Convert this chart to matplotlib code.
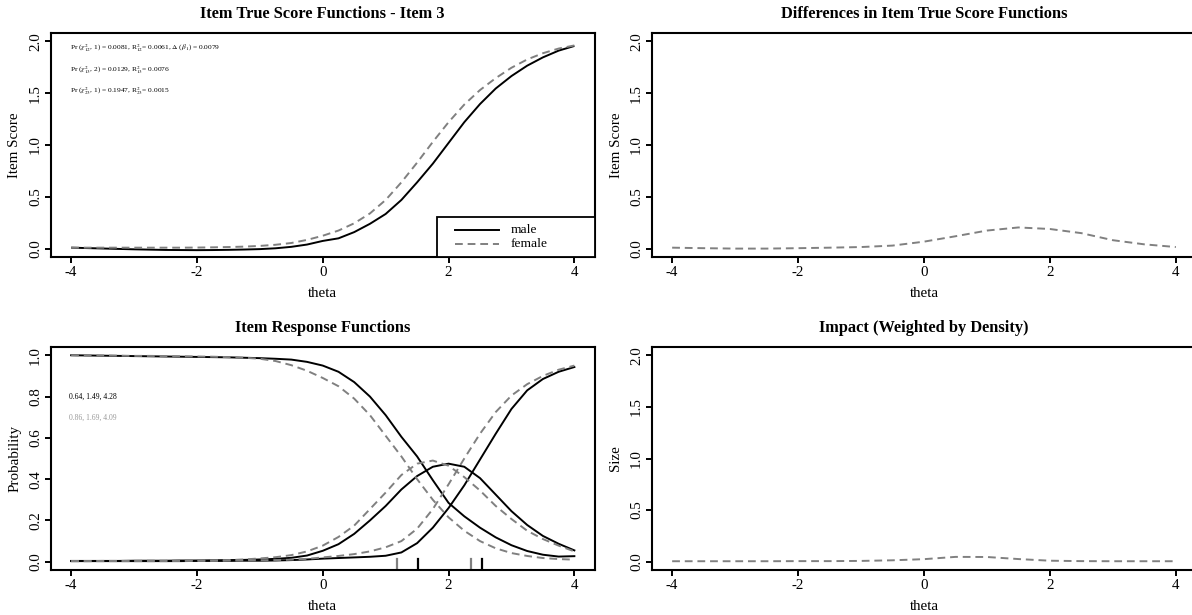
import numpy as np
import matplotlib
matplotlib.use('Agg')
import matplotlib.pyplot as plt
from matplotlib.patches import Rectangle

plt.rcParams['font.family'] = ['Liberation Serif', 'DejaVu Serif']
plt.rcParams['mathtext.fontset'] = 'stix'

# ---------------- data ----------------
theta = [-4.0, -3.75, -3.5, -3.25, -3.0, -2.75, -2.5, -2.25, -2.0, -1.75, -1.5, -1.25,
         -1.0, -0.75, -0.5, -0.25, 0.0, 0.25, 0.5, 0.75, 1.0, 1.25, 1.5, 1.75,
         2.0, 2.25, 2.5, 2.75, 3.0, 3.25, 3.5, 3.75, 4.0]

tsf_male = [0.010, 0.006, 0.002, -0.002, -0.006, -0.009, -0.012, -0.013, -0.014, -0.013, -0.011, -0.008,
            -0.004, 0.004, 0.018, 0.040, 0.075, 0.100, 0.160, 0.240, 0.335, 0.470, 0.640, 0.820,
            1.020, 1.220, 1.395, 1.545, 1.665, 1.765, 1.845, 1.910, 1.955]
tsf_female = [0.010, 0.010, 0.010, 0.010, 0.010, 0.010, 0.010, 0.010, 0.011, 0.013, 0.016, 0.020,
              0.027, 0.038, 0.055, 0.085, 0.125, 0.175, 0.245, 0.340, 0.470, 0.640, 0.830, 1.030,
              1.220, 1.390, 1.530, 1.645, 1.745, 1.825, 1.885, 1.930, 1.960]

irf_male_p0 = [1.000, 0.999, 0.998, 0.997, 0.996, 0.995, 0.994, 0.993, 0.992, 0.991, 0.990, 0.988,
               0.986, 0.983, 0.979, 0.968, 0.950, 0.920, 0.870, 0.800, 0.710, 0.605, 0.510, 0.395,
               0.285, 0.220, 0.165, 0.118, 0.080, 0.052, 0.034, 0.025, 0.027]
irf_male_p1 = [0.004, 0.004, 0.004, 0.004, 0.005, 0.005, 0.005, 0.006, 0.006, 0.007, 0.008, 0.009,
               0.011, 0.014, 0.019, 0.030, 0.053, 0.085, 0.135, 0.200, 0.270, 0.350, 0.415, 0.460,
               0.475, 0.460, 0.405, 0.325, 0.245, 0.178, 0.125, 0.087, 0.055]
irf_male_p2 = [0.003, 0.003, 0.003, 0.003, 0.003, 0.003, 0.003, 0.003, 0.004, 0.004, 0.004, 0.005,
               0.005, 0.006, 0.008, 0.011, 0.015, 0.018, 0.021, 0.024, 0.029, 0.045, 0.090, 0.165,
               0.260, 0.370, 0.495, 0.620, 0.740, 0.830, 0.885, 0.920, 0.943]

irf_female_p0 = [1.000, 0.999, 0.999, 0.998, 0.997, 0.997, 0.996, 0.995, 0.994, 0.993, 0.991, 0.988,
                 0.983, 0.972, 0.952, 0.925, 0.890, 0.850, 0.790, 0.710, 0.610, 0.510, 0.400, 0.300,
                 0.215, 0.150, 0.100, 0.065, 0.042, 0.028, 0.018, 0.013, 0.010]
irf_female_p1 = [0.003, 0.003, 0.004, 0.004, 0.004, 0.005, 0.005, 0.006, 0.006, 0.007, 0.008, 0.011,
                 0.016, 0.022, 0.032, 0.050, 0.078, 0.120, 0.175, 0.255, 0.335, 0.420, 0.475, 0.490,
                 0.465, 0.410, 0.345, 0.270, 0.207, 0.150, 0.110, 0.078, 0.050]
irf_female_p2 = [0.003, 0.003, 0.003, 0.003, 0.003, 0.003, 0.003, 0.004, 0.004, 0.004, 0.005, 0.006,
                 0.007, 0.008, 0.010, 0.014, 0.021, 0.028, 0.037, 0.050, 0.070, 0.100, 0.160, 0.255,
                 0.375, 0.500, 0.620, 0.725, 0.805, 0.860, 0.900, 0.930, 0.950]

theta_coarse = [-4.0, -3.5, -3.0, -2.5, -2.0, -1.5, -1.0, -0.5, 0.0, 0.5, 1.0, 1.5, 2.0, 2.5, 3.0, 3.5, 4.0]
tsf_diff = [0.010, 0.005, 0.001, 0.001, 0.005, 0.010, 0.016, 0.030, 0.068, 0.120, 0.175, 0.205,
            0.190, 0.150, 0.082, 0.042, 0.016]
impact = [0.005, 0.005, 0.005, 0.005, 0.006, 0.006, 0.008, 0.014, 0.025, 0.047, 0.046, 0.026,
          0.010, 0.006, 0.005, 0.005, 0.005]

thresholds_male = [1.52, 2.53]
thresholds_female = [1.18, 2.36]

params_male = "0.64, 1.49, 4.28"
params_female = "0.86, 1.69, 4.09"

stats_lines = [
    r'Pr ($\chi^2_{12}$, 1) = 0.0081, R$^2_{12}$= 0.0061, $\Delta$ ($\beta_1$) = 0.0079',
    r'Pr ($\chi^2_{13}$, 2) = 0.0129, R$^2_{13}$= 0.0076',
    r'Pr ($\chi^2_{23}$, 1) = 0.1947, R$^2_{23}$= 0.0015',
]
stats_y = [1.93, 1.72, 1.52]

xticks = [-4, -2, 0, 2, 4]
yticks_score = [0.0, 0.5, 1.0, 1.5, 2.0]
yticks_prob = [0.0, 0.2, 0.4, 0.6, 0.8, 1.0]

GRAY = '#808080'
LW = 1.4
DASH = (4, 2.5)

# ---------------- layout ----------------
W, H = 1192, 615
fig = plt.figure(figsize=(W / 100, H / 100), dpi=100)


def px_axes(left, right, top, bottom):
    return fig.add_axes([left / W, 1 - bottom / H, (right - left) / W, (bottom - top) / H])


ax_tl = px_axes(51, 594.5, 33, 257)
ax_tr = px_axes(652, 1196, 33, 257)
ax_bl = px_axes(51, 594.5, 347, 570)
ax_br = px_axes(652, 1196, 347, 570)

TICK_FS = 10.8
TITLE_FS = 11.8


def style(ax, title, ylabel, yticks, ylim):
    ax.set_xlim(-4.32, 4.32)
    ax.set_ylim(ylim)
    for s in ax.spines.values():
        s.set_linewidth(1.5)
        s.set_color('black')
    ax.set_xticks(xticks)
    ax.set_xticklabels([str(t) for t in xticks])
    ax.set_yticks(yticks)
    ax.set_yticklabels(['%.1f' % t for t in yticks], rotation=90, va='center')
    ax.tick_params(direction='out', length=4.2, width=1.4, labelsize=TICK_FS, pad=2.2)
    hpx = ax.get_position().height * H
    wpx = ax.get_position().width * W
    ax.set_xlabel('theta', fontsize=TICK_FS)
    ax.xaxis.label.set_va('center')
    ax.xaxis.set_label_coords(0.5, -36 / hpx)
    ax.set_ylabel(ylabel, fontsize=TICK_FS)
    ax.yaxis.label.set_va('center')
    ax.yaxis.set_label_coords(-36 / wpx, 0.5)
    ax.text(0.5, 1 + 19 / hpx, title, transform=ax.transAxes, ha='center', va='center',
            fontsize=TITLE_FS, fontweight='bold')


score_lim = (-0.08, 2.08)
prob_lim = (-0.04, 1.04)

# Top-left: item true score functions
ax = ax_tl
ax.plot(theta, tsf_male, color='black', lw=LW, solid_capstyle='butt')
ax.plot(theta, tsf_female, color=GRAY, lw=LW, linestyle=(0, DASH))
for txt, yy in zip(stats_lines, stats_y):
    ax.text(-4.02, yy, txt, fontsize=5.3, ha='left', va='center')
style(ax, 'Item True Score Functions - Item 3', 'Item Score', yticks_score, score_lim)
# legend (bottom right, touching the plot box)
lx0, lh = 0.7102, 0.179
ax.add_patch(Rectangle((lx0, 0), 1 - lx0, lh, transform=ax.transAxes, facecolor='white',
                       edgecolor='black', lw=1.3, zorder=5, clip_on=False))
ax.plot([0.7433, 0.824], [lh * 2 / 3] * 2, transform=ax.transAxes, color='black', lw=LW, zorder=6)
ax.plot([0.7433, 0.824], [lh / 3] * 2, transform=ax.transAxes, color=GRAY, lw=LW,
        linestyle=(0, DASH), zorder=6)
ax.text(0.846, lh * 2 / 3, 'male', transform=ax.transAxes, fontsize=9.7, va='center', zorder=6)
ax.text(0.846, lh / 3, 'female', transform=ax.transAxes, fontsize=9.7, va='center', zorder=6)

# Top-right: differences
ax = ax_tr
ax.plot(theta_coarse, tsf_diff, color=GRAY, lw=LW, linestyle=(0, DASH))
style(ax, 'Differences in Item True Score Functions', 'Item Score', yticks_score, score_lim)

# Bottom-left: item response functions
ax = ax_bl
for p in (irf_male_p0, irf_male_p1, irf_male_p2):
    ax.plot(theta, p, color='black', lw=LW)
for p in (irf_female_p0, irf_female_p1, irf_female_p2):
    ax.plot(theta, p, color=GRAY, lw=LW, linestyle=(0, DASH))
trans = ax.get_xaxis_transform()
for t in thresholds_female:
    ax.plot([t, t], [0.01, 0.05], transform=trans, color=GRAY, lw=1.6)
for t in thresholds_male:
    ax.plot([t, t], [0.01, 0.05], transform=trans, color='black', lw=1.6)
ax.text(-4.04, 0.80, params_male, fontsize=5.5, ha='left', va='center', color='black')
ax.text(-4.04, 0.695, params_female, fontsize=5.5, ha='left', va='center', color='#999999')
style(ax, 'Item Response Functions', 'Probability', yticks_prob, prob_lim)

# Bottom-right: impact
ax = ax_br
ax.plot(theta_coarse, impact, color=GRAY, lw=LW, linestyle=(0, DASH))
style(ax, 'Impact (Weighted by Density)', 'Size', yticks_score, score_lim)

fig.savefig('out.png', dpi=100)
